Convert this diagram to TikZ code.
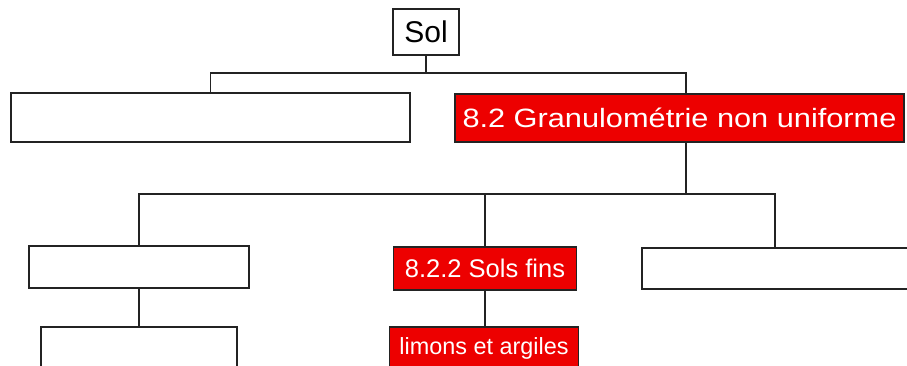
\documentclass[tikz,border=0pt]{standalone}
\usepackage{fontspec}
\setmainfont{Liberation Sans}
\newfontfamily\widefont[FakeStretch=1.16]{Liberation Sans}
\usepackage{tikz}
\definecolor{soilred}{RGB}{237,0,0}
\definecolor{edge}{RGB}{35,35,35}

\begin{document}
\begin{tikzpicture}[x=1pt, y=-1pt, line width=1.6pt, draw=edge,
  box/.style={draw=edge, line width=1.6pt, fill=white, inner sep=0pt},
  redbox/.style={box, fill=soilred, text=white}]
\useasboundingbox (0,0) rectangle (907,365);
\clip (0,0) rectangle (907,365);

% top and first level
\node[box, minimum width=66pt, minimum height=46pt, font=\fontsize{30}{34}\selectfont] (sol) at (426,32) {Sol};
\node[box, minimum width=399pt, minimum height=49pt] (uniforme) at (210.5,117.5) {};
\node[redbox, minimum width=449pt, minimum height=48pt, font=\widefont\fontsize{26.5}{30}\selectfont] (nonuniforme) at (679.5,118) {8.2 Granulométrie non uniforme};

% second level
\node[box, minimum width=220pt, minimum height=42pt] (grossiers) at (139,267) {};
\node[redbox, minimum width=183pt, minimum height=43pt, font=\fontsize{25.5}{29}\selectfont] (fins) at (485,268.5) {8.2.2 Sols fins};
\node[box, minimum width=266pt, minimum height=41pt] (organiques) at (775,268.5) {};

% third level
\node[box, minimum width=196pt, minimum height=42pt] (sables) at (139,348) {};
\node[redbox, minimum width=189pt, minimum height=42pt, font=\fontsize{23.4}{27}\selectfont] (limons) at (484,348) {limons et argiles};

\coordinate (t1) at (426,73);
\coordinate (g1) at (686,94);
\coordinate (g2) at (686,142);
\coordinate (t2) at (686,194);

\draw (sol) -- (t1);
\draw (uniforme.north) |- (t1) -| (g1);
\draw (g2) -- (t2);
\draw (grossiers.north) |- (t2) -| (organiques.north);
\draw (fins.north) -- (fins.north |- t2);
\draw (grossiers) -- (sables);
\draw (fins) -- (fins |- limons.north);
\end{tikzpicture}
\end{document}
